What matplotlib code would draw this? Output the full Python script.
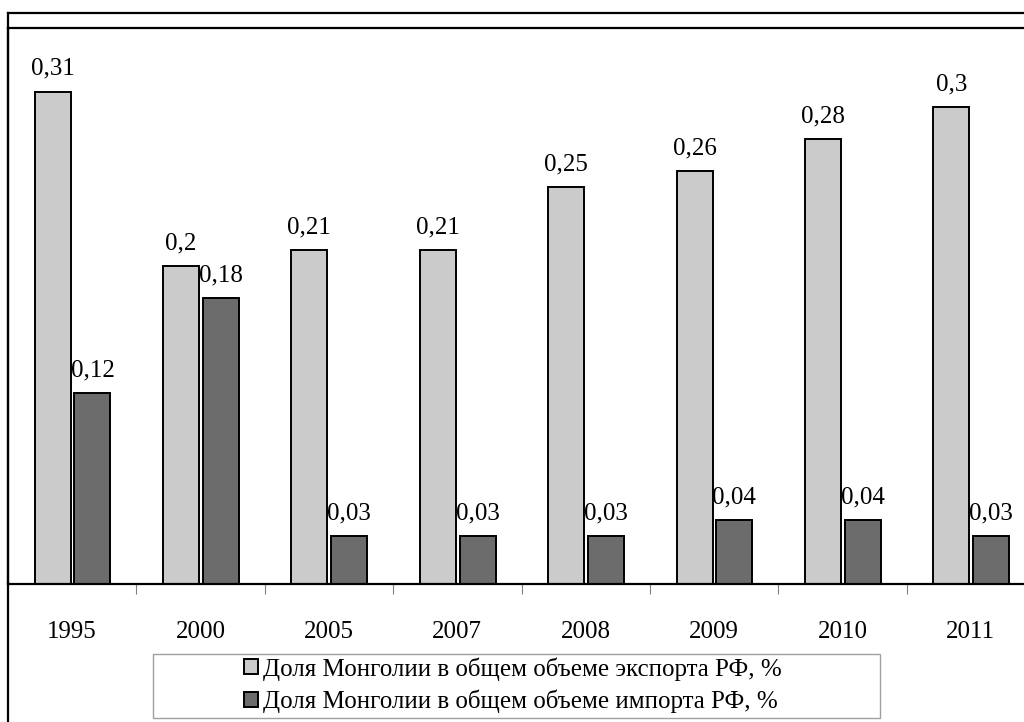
import numpy as np
import matplotlib
matplotlib.use("Agg")
import matplotlib.pyplot as plt
from matplotlib.lines import Line2D
from matplotlib.patches import Patch, Rectangle

years = ["1995", "2000", "2005", "2007", "2008", "2009", "2010", "2011"]
export_share = [0.31, 0.2, 0.21, 0.21, 0.25, 0.26, 0.28, 0.3]
import_share = [0.12, 0.18, 0.03, 0.03, 0.03, 0.04, 0.04, 0.03]
labels = ["Доля Монголии в общем объеме экспорта РФ, %",
          "Доля Монголии в общем объеме импорта РФ, %"]

LIGHT = "#CBCBCB"
DARK = "#6C6C6C"
FS = 18

plt.rcParams["font.family"] = ["Liberation Serif", "DejaVu Serif"]

W, H = 1024, 722
fig = plt.figure(figsize=(W / 100, H / 100), dpi=100)
ax = fig.add_axes([8 / W, (H - 584) / H, (1035 - 8) / W, (584 - 28) / H])

x = np.arange(len(years))
bw = 0.28
xe = x - 0.152
xi = x + 0.158
ax.bar(xe, export_share, bw, color=LIGHT, edgecolor="black", linewidth=1.4)
ax.bar(xi, import_share, bw, color=DARK, edgecolor="black", linewidth=1.4)

fmt = lambda v: f"{v:g}".replace(".", ",")
for px, v in zip(xe, export_share):
    ax.text(px, v + 0.0105, fmt(v), ha="center", va="baseline", fontsize=FS)
for px, v in zip(xi, import_share):
    ax.text(px, v + 0.0105, fmt(v), ha="center", va="baseline", fontsize=FS)

ax.set_xlim(-0.5, len(years) - 0.5)
ax.set_ylim(0, 0.35)
ax.set_yticks([])
ax.set_xticks(x)
ax.set_xticklabels(years, fontsize=FS)
ax.tick_params(axis="x", which="major", length=0, pad=27)
ax.set_xticks(x[:-1] + 0.5, minor=True)
ax.tick_params(axis="x", which="minor", length=7, width=0.8, color="#808080")
for s in ax.spines.values():
    s.set_color("black")
    s.set_linewidth(1.6)

# outer chart frame
fig.add_artist(Line2D([8 / W, 8 / W], [0, (H - 13) / H], color="black", lw=1.6))
fig.add_artist(Line2D([8 / W, 1.0], [(H - 13) / H, (H - 13) / H], color="black", lw=1.6))

# legend box (wider than its content, as in the original)
fig.add_artist(Rectangle((153 / W, (H - 718) / H), (880 - 153) / W, (718 - 654) / H,
                         transform=fig.transFigure, facecolor="white",
                         edgecolor="#A0A0A0", linewidth=1.0))

handles = [Patch(facecolor=LIGHT, edgecolor="black", linewidth=1.4),
           Patch(facecolor=DARK, edgecolor="black", linewidth=1.4)]
leg = fig.legend(handles, labels, loc="center left",
                 bbox_to_anchor=(244 / W, (H - 685) / H),
                 fontsize=FS, frameon=False, handlelength=0.55,
                 handleheight=0.55, handletextpad=0.2, borderpad=0,
                 labelspacing=0.35, borderaxespad=0)

fig.savefig("out.png", dpi=100, facecolor="white")
